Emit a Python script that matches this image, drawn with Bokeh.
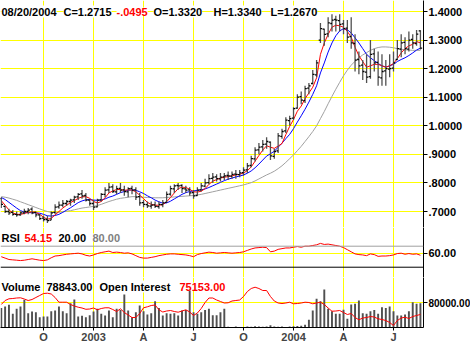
from bokeh.plotting import figure
from bokeh.layouts import column
from bokeh.models import (Range1d, FixedTicker, Span, Label, ColumnDataSource, Grid,
                          BoxAnnotation)
from bokeh.transform import dodge
from bokeh.embed import file_html
from bokeh.resources import INLINE

FONT = "Liberation Sans"

# ---------------- data (weekly bars 2002-07-19 .. 2004-08-20) ----------------
week = list(range(110))

quarter_ticks = [11, 24, 37, 50, 63, 76, 89, 102]
quarter_labels = ["O", "2003", "A", "J", "O", "2004", "A", "J"]

price_ticks = [0.7, 0.8, 0.9, 1.0, 1.1, 1.2, 1.3, 1.4]
price_labels = [".7000", ".8000", ".9000", "1.0000", "1.1000", "1.2000", "1.3000", "1.4000"]

open_ = [0.745, 0.718, 0.700, 0.697, 0.690, 0.688, 0.695, 0.700, 0.708, 0.697,
         0.688, 0.677, 0.672, 0.670, 0.697, 0.716, 0.722, 0.728, 0.735, 0.741,
         0.751, 0.762, 0.756, 0.740, 0.728, 0.716, 0.741, 0.760, 0.776, 0.786,
         0.769, 0.781, 0.776, 0.769, 0.781, 0.776, 0.752, 0.731, 0.724, 0.719,
         0.723, 0.717, 0.724, 0.732, 0.761, 0.779, 0.791, 0.791, 0.779, 0.776,
         0.766, 0.756, 0.776, 0.789, 0.801, 0.816, 0.821, 0.814, 0.821, 0.826,
         0.824, 0.831, 0.829, 0.836, 0.846, 0.861, 0.884, 0.916, 0.926, 0.936,
         0.943, 0.893, 0.912, 0.963, 0.982, 1.018, 1.027, 1.062, 1.102, 1.088,
         1.132, 1.148, 1.178, 1.300, 1.338, 1.322, 1.358, 1.372, 1.368, 1.357,
         1.342, 1.312, 1.288, 1.232, 1.212, 1.188, 1.172, 1.252, 1.222, 1.168,
         1.192, 1.198, 1.202, 1.232, 1.268, 1.292, 1.268, 1.302, 1.288, 1.332]
high = [0.750, 0.720, 0.710, 0.705, 0.700, 0.700, 0.710, 0.712, 0.715, 0.700,
        0.690, 0.685, 0.685, 0.700, 0.725, 0.735, 0.740, 0.740, 0.745, 0.755,
        0.765, 0.775, 0.765, 0.745, 0.740, 0.745, 0.765, 0.785, 0.800, 0.795,
        0.790, 0.800, 0.790, 0.785, 0.790, 0.785, 0.765, 0.740, 0.735, 0.735,
        0.735, 0.735, 0.740, 0.770, 0.790, 0.795, 0.800, 0.795, 0.790, 0.785,
        0.775, 0.785, 0.800, 0.815, 0.830, 0.835, 0.830, 0.835, 0.835, 0.840,
        0.840, 0.845, 0.845, 0.855, 0.870, 0.895, 0.925, 0.940, 0.950, 0.960,
        0.945, 0.920, 0.975, 0.990, 1.030, 1.035, 1.065, 1.110, 1.120, 1.140,
        1.150, 1.195, 1.230, 1.360, 1.340, 1.380, 1.390, 1.385, 1.390, 1.370,
        1.370, 1.380, 1.320, 1.260, 1.230, 1.250, 1.300, 1.270, 1.260, 1.250,
        1.230, 1.250, 1.260, 1.300, 1.320, 1.310, 1.330, 1.320, 1.335, 1.334]
low = [0.712, 0.695, 0.688, 0.685, 0.682, 0.685, 0.690, 0.690, 0.690, 0.680,
       0.670, 0.665, 0.660, 0.670, 0.690, 0.710, 0.715, 0.720, 0.720, 0.730,
       0.740, 0.745, 0.735, 0.720, 0.705, 0.715, 0.735, 0.750, 0.765, 0.765,
       0.760, 0.765, 0.755, 0.750, 0.760, 0.740, 0.720, 0.715, 0.712, 0.710,
       0.712, 0.710, 0.715, 0.730, 0.755, 0.765, 0.775, 0.765, 0.765, 0.755,
       0.745, 0.755, 0.770, 0.785, 0.795, 0.800, 0.805, 0.805, 0.810, 0.810,
       0.815, 0.815, 0.820, 0.825, 0.835, 0.855, 0.875, 0.900, 0.910, 0.920,
       0.880, 0.885, 0.905, 0.955, 0.975, 1.000, 1.020, 1.060, 1.075, 1.080,
       1.110, 1.145, 1.170, 1.290, 1.280, 1.310, 1.330, 1.330, 1.330, 1.320,
       1.290, 1.270, 1.190, 1.180, 1.160, 1.150, 1.165, 1.190, 1.140, 1.140,
       1.140, 1.170, 1.190, 1.230, 1.240, 1.250, 1.260, 1.270, 1.280, 1.267]
close = [0.725, 0.700, 0.695, 0.690, 0.688, 0.695, 0.700, 0.705, 0.695, 0.688,
         0.675, 0.672, 0.668, 0.695, 0.715, 0.722, 0.728, 0.735, 0.740, 0.750,
         0.760, 0.755, 0.740, 0.728, 0.715, 0.740, 0.760, 0.775, 0.785, 0.770,
         0.780, 0.775, 0.770, 0.780, 0.775, 0.750, 0.730, 0.725, 0.720, 0.722,
         0.718, 0.725, 0.730, 0.760, 0.780, 0.790, 0.790, 0.780, 0.775, 0.765,
         0.755, 0.775, 0.790, 0.800, 0.815, 0.820, 0.815, 0.820, 0.825, 0.825,
         0.830, 0.830, 0.835, 0.845, 0.860, 0.885, 0.915, 0.925, 0.935, 0.945,
         0.895, 0.910, 0.965, 0.980, 1.020, 1.025, 1.060, 1.100, 1.090, 1.130,
         1.140, 1.180, 1.220, 1.340, 1.320, 1.360, 1.370, 1.370, 1.355, 1.340,
         1.310, 1.290, 1.230, 1.210, 1.190, 1.170, 1.250, 1.220, 1.170, 1.190,
         1.200, 1.200, 1.220, 1.270, 1.290, 1.270, 1.300, 1.290, 1.321, 1.2715]

ma_red = [0.738, 0.722, 0.705, 0.695, 0.690, 0.690, 0.693, 0.697, 0.699, 0.697,
          0.690, 0.680, 0.673, 0.676, 0.688, 0.700, 0.712, 0.722, 0.731, 0.738,
          0.746, 0.751, 0.752, 0.746, 0.735, 0.730, 0.735, 0.748, 0.765, 0.772,
          0.777, 0.777, 0.774, 0.776, 0.775, 0.769, 0.757, 0.745, 0.732, 0.725,
          0.722, 0.722, 0.724, 0.734, 0.749, 0.765, 0.780, 0.785, 0.784, 0.778,
          0.769, 0.768, 0.771, 0.780, 0.795, 0.806, 0.812, 0.817, 0.820, 0.822,
          0.825, 0.828, 0.830, 0.835, 0.843, 0.856, 0.876, 0.896, 0.915, 0.930,
          0.925, 0.921, 0.929, 0.938, 0.969, 0.998, 1.022, 1.051, 1.069, 1.095,
          1.115, 1.135, 1.168, 1.250, 1.290, 1.320, 1.345, 1.352, 1.350, 1.345,
          1.330, 1.310, 1.275, 1.245, 1.225, 1.205, 1.210, 1.215, 1.215, 1.210,
          1.205, 1.210, 1.218, 1.235, 1.255, 1.270, 1.280, 1.285, 1.295, 1.290]
ma_blue = [0.749, 0.742, 0.732, 0.722, 0.712, 0.703, 0.698, 0.696, 0.696, 0.695,
           0.694, 0.690, 0.685, 0.684, 0.686, 0.690, 0.697, 0.705, 0.713, 0.722,
           0.731, 0.737, 0.741, 0.742, 0.740, 0.739, 0.740, 0.744, 0.750, 0.754,
           0.760, 0.766, 0.770, 0.774, 0.776, 0.774, 0.769, 0.763, 0.755, 0.748,
           0.740, 0.734, 0.729, 0.730, 0.736, 0.744, 0.752, 0.760, 0.766, 0.770,
           0.772, 0.774, 0.776, 0.779, 0.784, 0.790, 0.796, 0.802, 0.808, 0.813,
           0.817, 0.821, 0.824, 0.828, 0.834, 0.842, 0.853, 0.866, 0.880, 0.894,
           0.902, 0.911, 0.925, 0.939, 0.955, 0.970, 0.990, 1.013, 1.035, 1.058,
           1.083, 1.110, 1.140, 1.185, 1.220, 1.258, 1.290, 1.315, 1.332, 1.340,
           1.336, 1.325, 1.308, 1.290, 1.270, 1.250, 1.238, 1.228, 1.218, 1.210,
           1.205, 1.210, 1.215, 1.225, 1.232, 1.238, 1.246, 1.255, 1.265, 1.272]
ma_gray = [0.752, 0.750, 0.747, 0.743, 0.739, 0.734, 0.729, 0.724, 0.719, 0.714,
           0.709, 0.704, 0.700, 0.697, 0.696, 0.697, 0.699, 0.701, 0.703, 0.706,
           0.709, 0.712, 0.714, 0.716, 0.718, 0.721, 0.725, 0.730, 0.735, 0.739,
           0.743, 0.746, 0.748, 0.750, 0.752, 0.752, 0.751, 0.750, 0.749, 0.749,
           0.748, 0.748, 0.748, 0.749, 0.750, 0.751, 0.752, 0.753, 0.754, 0.755,
           0.756, 0.758, 0.760, 0.763, 0.766, 0.769, 0.772, 0.775, 0.778, 0.781,
           0.784, 0.787, 0.790, 0.793, 0.797, 0.801, 0.807, 0.814, 0.821, 0.828,
           0.834, 0.841, 0.850, 0.860, 0.872, 0.885, 0.898, 0.913, 0.928, 0.945,
           0.962, 0.980, 1.000, 1.025, 1.050, 1.077, 1.103, 1.128, 1.152, 1.175,
           1.195, 1.212, 1.226, 1.238, 1.248, 1.256, 1.264, 1.270, 1.274, 1.276,
           1.276, 1.275, 1.273, 1.270, 1.268, 1.266, 1.265, 1.264, 1.264, 1.264]

rsi = [50, 46, 42, 41, 40, 39, 40, 42, 44, 42,
       40, 39, 41, 47, 52, 53, 55, 57, 58, 59,
       60, 58, 54, 52, 55, 59, 62, 64, 66, 62,
       63, 62, 60, 61, 58, 53, 48, 46, 46, 48,
       50, 53, 55, 57, 58, 58, 57, 56, 55, 53,
       50, 56, 59, 61, 63, 62, 60, 61, 62, 61,
       60, 61, 62, 64, 68, 72, 75, 76, 77, 76,
       64, 66, 71, 73, 75, 75, 77, 79, 77, 80,
       80, 82, 84, 88, 85, 86, 84, 82, 80, 76,
       70, 64, 58, 56, 55, 53, 58, 56, 51, 52,
       52, 53, 55, 59, 60, 57, 59, 57, 58, 54.15]
rsi_low, rsi_mid, rsi_high = 20, 60, 80

volume = [64000, 68600, 74000, 44700, 61000, 68600, 90400, 46700, 52200, 50000,
          33600, 36000, 36000, 53000, 55500, 68600, 53000, 46700, 79400, 91400,
          36000, 38000, 33600, 40000, 52000, 61000, 44700, 39000, 55500, 33600,
          61000, 57000, 107700, 55500, 33600, 50000, 71800, 53000, 42500, 46700,
          85900, 64000, 39000, 46700, 44700, 46700, 39000, 55500, 57000, 124000,
          50000, 44700, 50000, 57000, 61000, 40000, 40000, 50000, 61000, 2500,
          2000, 3000, 2000, 1500, 3000, 2500, 4000, 3000, 2500, 3500,
          7000, 3000, 2500, 3000, 2000, 3500, 4000, 5000, 6000, 9000,
          25000, 55500, 93700, 85900, 124000, 61000, 53000, 44700, 44700, 57800,
          28400, 75000, 77400, 88200, 46700, 44700, 53000, 57000, 44700, 66300,
          64000, 68600, 53000, 39000, 39000, 42500, 53000, 82600, 77400, 78843]
open_interest = [82100, 84900, 86100, 86300, 86650, 86800, 85950, 84900, 85600, 87000,
                 88400, 89800, 90000, 89450, 87000, 83700, 83700, 83700, 82100, 81050,
                 80200, 79650, 78750, 78950, 79650, 78400, 79300, 79800, 79800, 78600,
                 77200, 79100, 76500, 74750, 73000, 73000, 75800, 79800, 80500, 81400,
                 81750, 78400, 76850, 77550, 77900, 77200, 76700, 77550, 78400, 76850,
                 74400, 76150, 79300, 83500, 86650, 86650, 85250, 84200, 83150, 83300,
                 84550, 84900, 85250, 87700, 91200, 93300, 94200, 93300, 91900, 91900,
                 87700, 84550, 83150, 82800, 83150, 83700, 82600, 82800, 83150, 83700,
                 83500, 82600, 83150, 83700, 82100, 79650, 77400, 77550, 77900, 76500,
                 75100, 75800, 73000, 71400, 72650, 73000, 73700, 73350, 72100, 71600,
                 70900, 69500, 67400, 70900, 72650, 73200, 72300, 73700, 74400, 75153]
vol_ticks = [80000]
vol_labels = ["80000.00"]

header = [("08/20/2004", "black"), ("C=1.2715", "black"), ("-.0495", "#FF0000"),
          ("O=1.3320", "black"), ("H=1.3340", "black"), ("L=1.2670", "black")]
rsi_header = [("RSI", "black"), ("54.15", "#FF0000"), ("20.00", "black"), ("80.00", "#808080")]
vol_header = [("Volume", "black"), ("78843.00", "black"), ("Open Interest", "black"),
              ("75153.00", "#FF0000")]
footer = "Created with SuperCharts by Omega Research \u00a9 1997"

# ---------------- layout helpers ----------------
src = ColumnDataSource(dict(week=week, open=open_, high=high, low=low, close=close,
                            ma_red=ma_red, ma_blue=ma_blue, ma_gray=ma_gray,
                            rsi=rsi, volume=volume, oi=open_interest))

x_range = Range1d(-0.2, 109.8)
YELLOW = "#FFFF00"


def make_fig(frame_h, y_range, xaxis=False):
    p = figure(frame_width=423, frame_height=frame_h, x_range=x_range, y_range=y_range,
               y_axis_location="right", x_axis_location="below" if xaxis else None,
               toolbar_location=None, output_backend="svg", title=None,
               min_border_left=0, min_border_right=47, min_border_top=0,
               min_border_bottom=27 if xaxis else 0)
    p.outline_line_color = None
    p.background_fill_color = "white"
    p.border_fill_color = "white"
    p.grid.visible = False
    p.add_layout(Grid(dimension=0, ticker=FixedTicker(ticks=quarter_ticks),
                      grid_line_color=YELLOW, grid_line_width=1))
    ax = p.yaxis[0]
    ax.axis_line_color = "black"
    ax.major_tick_out = 4
    ax.major_tick_in = 0
    ax.minor_tick_out = 0
    ax.minor_tick_in = 0
    ax.major_label_standoff = 1
    ax.major_label_text_font = FONT
    ax.major_label_text_font_style = "bold"
    ax.major_label_text_font_size = "11px"
    ax.major_label_text_color = "black"
    return p


def header_labels(p, items, xs, y):
    for (txt, col), x in zip(items, xs):
        p.add_layout(Label(x=x, y=y, x_units="screen", y_units="screen", text=txt,
                           text_color=col, text_font=FONT, text_font_style="bold",
                           text_font_size="11px", text_baseline="alphabetic",
                           text_align="left", background_fill_color="white"))


def panel_separator(p, frame_h):
    # thin black rule across the axis strip at the top of a lower panel
    p.add_layout(BoxAnnotation(left=423, right=470, top=frame_h, bottom=frame_h - 1,
                               left_units="screen", right_units="screen",
                               top_units="screen", bottom_units="screen",
                               fill_color="black", fill_alpha=1, line_color=None,
                               level="overlay"))


# ---------------- price panel ----------------
p1 = make_fig(227, Range1d(0.644, 1.4385))
p1.yaxis.ticker = FixedTicker(ticks=price_ticks)
p1.yaxis.major_label_overrides = {t: l for t, l in zip(price_ticks, price_labels)}
p1.add_layout(Grid(dimension=1, ticker=FixedTicker(ticks=price_ticks),
                   grid_line_color=YELLOW, grid_line_width=1))

p1.line("week", "ma_gray", source=src, line_color="#A0A0A0", line_width=1)
p1.line("week", "ma_blue", source=src, line_color="#0000FF", line_width=1)
p1.line("week", "ma_red", source=src, line_color="#FF0000", line_width=1)
p1.segment(x0="week", y0="low", x1="week", y1="high", source=src,
           line_color="#505050", line_width=1.3)
p1.segment(x0=dodge("week", -0.45), y0="open", x1="week", y1="open", source=src,
           line_color="black", line_width=1.3)
p1.segment(x0="week", y0="close", x1=dodge("week", 0.45), y1="close", source=src,
           line_color="black", line_width=1.3)
header_labels(p1, header, [1, 63, 116, 153, 213, 270], 216)

# ---------------- RSI panel ----------------
p2 = make_fig(50, Range1d(-9.4, 133.4))
p2.yaxis.ticker = FixedTicker(ticks=[rsi_mid])
p2.yaxis.major_label_overrides = {rsi_mid: "60.00"}
p2.add_layout(Grid(dimension=1, ticker=FixedTicker(ticks=[rsi_mid]),
                   grid_line_color=YELLOW, grid_line_width=1))
p2.add_layout(Span(location=rsi_high, dimension="width", line_color="#A0A0A0", line_width=1))
p2.add_layout(Span(location=rsi_low, dimension="width", line_color="black", line_width=1))
p2.line("week", "rsi", source=src, line_color="#FF0000", line_width=1)
header_labels(p2, rsi_header, [1, 24, 58, 92], 40)
panel_separator(p2, 50)

# ---------------- volume panel ----------------
p3 = make_fig(50, Range1d(0, 163265), xaxis=True)
p3.extra_y_ranges = {"oi": Range1d(66000, 101000)}
p3.yaxis.ticker = FixedTicker(ticks=vol_ticks)
p3.yaxis.major_label_overrides = {t: l for t, l in zip(vol_ticks, vol_labels)}
p3.yaxis.major_label_text_font_size = "10px"
p3.add_layout(Grid(dimension=1, ticker=FixedTicker(ticks=vol_ticks),
                   grid_line_color=YELLOW, grid_line_width=1))
p3.vbar(x="week", top="volume", bottom=0, width=0.5, source=src,
        fill_color="#505050", line_color=None)
p3.line("week", "oi", source=src, y_range_name="oi", line_color="#FF0000", line_width=1)
header_labels(p3, vol_header, [1, 46, 99, 179], 41)
panel_separator(p3, 50)

xa = p3.xaxis[0]
xa.ticker = FixedTicker(ticks=quarter_ticks)
xa.major_label_overrides = {t: l for t, l in zip(quarter_ticks, quarter_labels)}
xa.axis_line_color = "black"
xa.major_tick_out = 3
xa.major_tick_in = 0
xa.minor_tick_out = 0
xa.minor_tick_in = 0
xa.major_label_standoff = 0
xa.major_label_text_font = FONT
xa.major_label_text_font_style = "bold"
xa.major_label_text_font_size = "11px"
xa.major_label_text_align = "left"
xa.major_label_text_baseline = "top"

p3.add_layout(Label(x=272, y=-22, x_units="screen", y_units="screen", text=footer,
                    text_font=FONT, text_font_size="8px", text_font_style="normal",
                    text_color="black", text_baseline="alphabetic", text_align="left"))

layout = column(p1, p2, p3, spacing=0)
open("out.html", "w").write(file_html(layout, INLINE))
